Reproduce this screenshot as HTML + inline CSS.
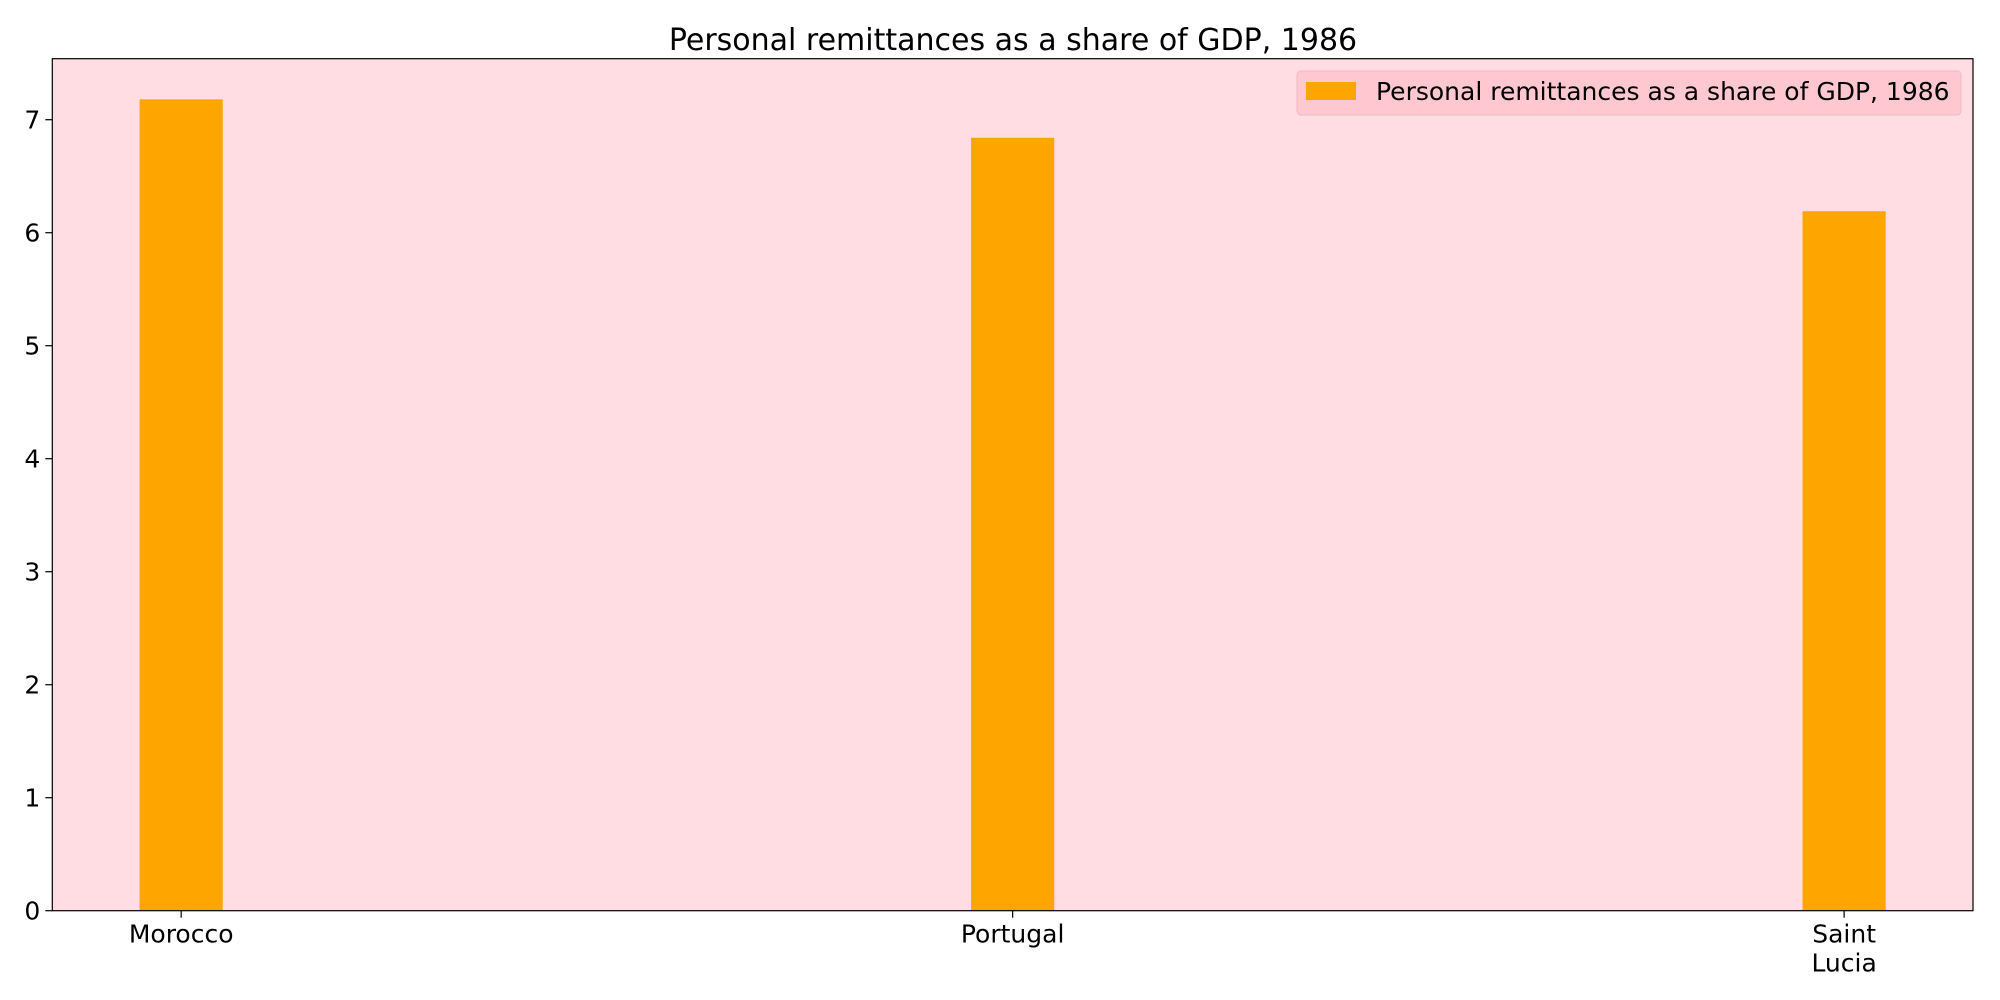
<!DOCTYPE html>
<html><head><meta charset="utf-8"><style>
html,body{margin:0;padding:0;background:#fff;}
svg{display:block;font-family:"DejaVu Sans","Liberation Sans",sans-serif;}
</style></head><body>
<svg id="chart" width="2000" height="1000" viewBox="0 0 2000 1000" xmlns="http://www.w3.org/2000/svg">
<rect x="0" y="0" width="2000" height="1000" fill="#ffffff"/>
<text x="1013" y="50" font-size="30" text-anchor="middle" fill="#000">Personal remittances as a share of GDP, 1986</text>
<rect x="52.3" y="58.7" width="1920.7" height="852" fill="#ffdde2"/>
<g id="bars"></g>
<g id="yaxis"></g>
<g id="xaxis"></g>
<rect x="52.3" y="58.7" width="1920.7" height="852" fill="none" stroke="#000" stroke-width="1.2"/>
<g>
<rect x="1297" y="71" width="664" height="44" rx="4" fill="#ffc8d0" stroke="#f0b8c0" stroke-width="1"/>
<rect x="1306" y="82" width="50" height="18" fill="#ffa500"/>
<text x="1376" y="100" font-size="25" fill="#000">Personal remittances as a share of GDP, 1986</text>
</g>
</svg>
<script>
const categories = ["Morocco", "Portugal", "Saint\nLucia"];
const values = [7.18, 6.84, 6.19];
const yTicks = [0, 1, 2, 3, 4, 5, 6, 7];

const NS = "http://www.w3.org/2000/svg";
const L = 52.3, R = 1973, T = 58.7, B = 910.7;
const xMin = -0.155, xMax = 2.155, yMax = 7.54;
const xS = v => L + (v - xMin) / (xMax - xMin) * (R - L);
const yS = v => B - v / yMax * (B - T);
const barW = 0.1;

function mk(tag, attrs, parent) {
  const e = document.createElementNS(NS, tag);
  for (const k in attrs) e.setAttribute(k, attrs[k]);
  parent.appendChild(e);
  return e;
}
const bars = document.getElementById('bars');
values.forEach((v, i) => {
  const r = mk('rect', {x: xS(i - barW / 2), y: yS(v), width: xS(barW) - xS(0), height: yS(0) - yS(v), fill: '#ffa500'}, bars);
  
  
});
const ya = document.getElementById('yaxis');
yTicks.forEach(t => {
  const y = yS(t);
  const l = mk('line', {x1: L - 7, x2: L, y1: y, y2: y, stroke: '#000', 'stroke-width': 1.2}, ya);
  
  
  const tx = mk('text', {x: L - 12, y: y + 9, 'font-size': 25, 'text-anchor': 'end', fill: '#000'}, ya);
  tx.textContent = String(t);
  
  
});
const xa = document.getElementById('xaxis');
categories.forEach((c, i) => {
  const x = xS(i);
  const l = mk('line', {x1: x, x2: x, y1: B, y2: B + 7, stroke: '#000', 'stroke-width': 1.2}, xa);
  
  
  c.split('\n').forEach((ln, j) => {
    const tx = mk('text', {x: x, y: B + 32 + j * 29, 'font-size': 25, 'text-anchor': 'middle', fill: '#000'}, xa);
    tx.textContent = ln;
    
    
  });
});
</script>
</body></html>
